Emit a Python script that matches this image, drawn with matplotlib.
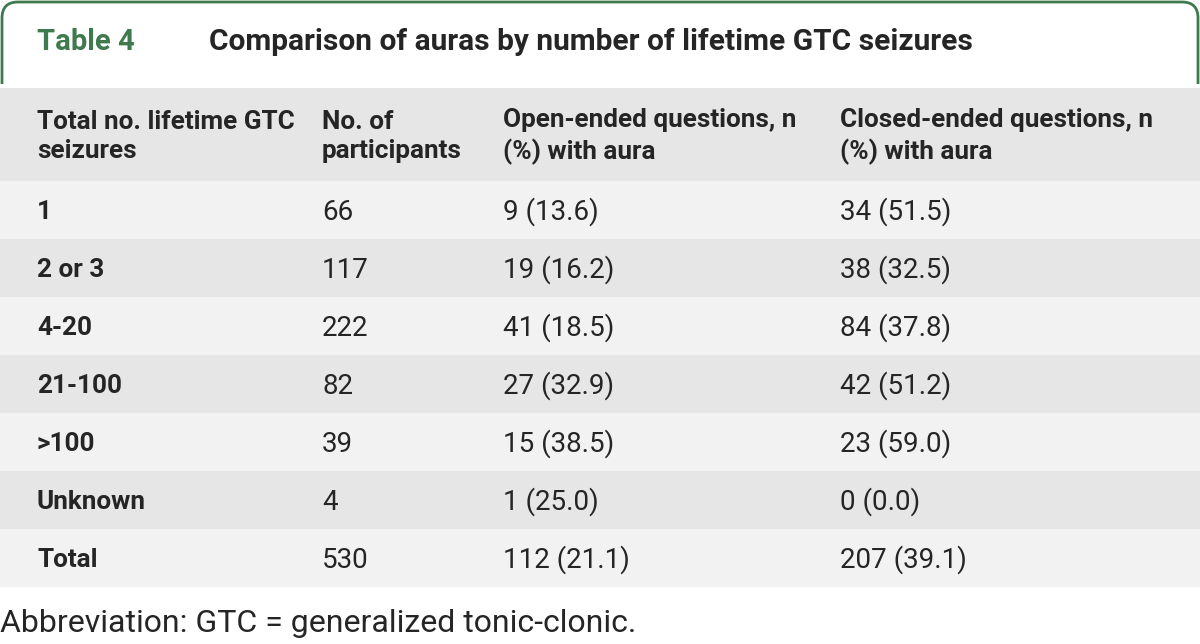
import matplotlib.pyplot as plt
from matplotlib.patches import Rectangle, FancyBboxPatch

plt.rcParams['font.family'] = ['Roboto', 'DejaVu Sans']

table_label = 'Table 4'
title = 'Comparison of auras by number of lifetime GTC seizures'
col_headers = ['Total no. lifetime GTC\nseizures', 'No. of\nparticipants',
               'Open-ended questions, n\n(%) with aura', 'Closed-ended questions, n\n(%) with aura']
groups = ['1', '2 or 3', '4-20', '21-100', '>100', 'Unknown', 'Total']
participants = [66, 117, 222, 82, 39, 4, 530]
open_n = [9, 19, 41, 27, 15, 1, 112]
open_pct = [13.6, 16.2, 18.5, 32.9, 38.5, 25.0, 21.1]
closed_n = [34, 38, 84, 42, 23, 0, 207]
closed_pct = [51.5, 32.5, 37.8, 51.2, 59.0, 0.0, 39.1]
footnote = 'Abbreviation: GTC = generalized tonic-clonic.'

green = '#3e7a4e'
dark = '#252525'
col_x = [37, 322, 503, 840]
fs_bold = 18.8
fs_reg = 20

fig = plt.figure(figsize=(12, 6.44), dpi=100)
ax = fig.add_axes([0, 0, 1, 1])
ax.set_xlim(0, 1200)
ax.set_ylim(644, 0)
ax.axis('off')

# title box with rounded top corners
box = FancyBboxPatch((2, 2), 1196, 200, boxstyle='round,pad=0,rounding_size=16',
                     facecolor='white', edgecolor=green, linewidth=2, zorder=1)
ax.add_patch(box)
ax.add_patch(Rectangle((0, 84), 1200, 200, facecolor='white', edgecolor='none', zorder=2))
ax.text(37, 42, table_label, color=green, fontsize=21, fontweight='bold', va='center', zorder=5)
ax.text(209, 42, title, color=dark, fontsize=21.5, fontweight='bold', va='center', zorder=5)

# header band
top = 88
head_h = 93
row_h = 58
ax.add_patch(Rectangle((0, top), 1200, head_h, facecolor='#e6e6e6', edgecolor='none', zorder=3))
for x, h in zip(col_x, col_headers):
    ax.text(x, top + head_h / 2 + 2, h, color=dark, fontsize=fs_bold, fontweight='bold',
            va='center', ha='left', linespacing=1.3, zorder=5)

for i, g in enumerate(groups):
    y0 = top + head_h + i * row_h
    fc = '#f2f2f2' if i % 2 == 0 else '#e6e6e6'
    ax.add_patch(Rectangle((0, y0), 1200, row_h, facecolor=fc, edgecolor='none', zorder=3))
    yc = y0 + row_h / 2 + 2
    cells = [g, str(participants[i]), f'{open_n[i]} ({open_pct[i]:.1f})',
             f'{closed_n[i]} ({closed_pct[i]:.1f})']
    for j, (x, c) in enumerate(zip(col_x, cells)):
        ax.text(x, yc, c, color=dark, fontsize=fs_bold if j == 0 else fs_reg,
                fontweight='bold' if j == 0 else 'normal',
                va='center', ha='left', zorder=5)

ax.text(0, 624, footnote, color=dark, fontsize=23, va='center', ha='left')

fig.savefig('out.png', dpi=100)
